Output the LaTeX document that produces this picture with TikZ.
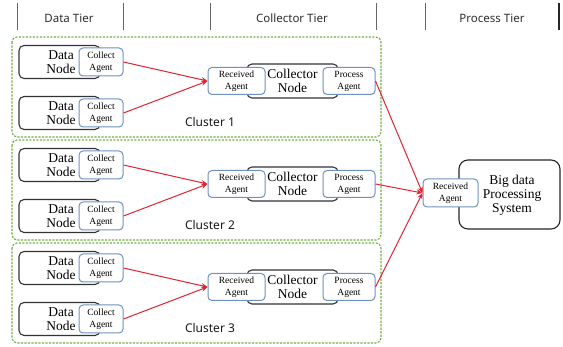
\documentclass[tikz,border=0pt]{standalone}
\usepackage{fontspec}
\setmainfont{Liberation Serif}
\newfontfamily\hdr{Noto Sans}
\usetikzlibrary{arrows.meta}
\definecolor{agentc}{RGB}{110,145,195}
\definecolor{clusterc}{RGB}{115,175,70}
\definecolor{arrowc}{RGB}{225,35,50}
\definecolor{hdrtext}{RGB}{45,45,45}
\begin{document}
\begin{tikzpicture}[x=1pt,y=-1pt,
  datanode/.style={draw=black!80,line width=1.1pt,rounded corners=5pt,fill=white,minimum width=81pt,minimum height=33pt,inner sep=0pt},
  dtext/.style={font=\fontsize{13.5}{14}\selectfont,align=center,inner sep=0pt},
  agent/.style={draw=agentc,line width=1pt,rounded corners=4pt,fill=white,inner sep=0pt,align=center,font=\fontsize{9.5}{12}\selectfont},
  collbox/.style={draw=black!80,line width=1.1pt,rounded corners=5pt,fill=white,minimum width=91pt,minimum height=34pt,inner sep=0pt,align=center,font=\fontsize{13.5}{14}\selectfont},
  cluster/.style={draw=clusterc,line width=1.1pt,dash pattern=on 2.2pt off 1.3pt,rounded corners=5pt},
  clabel/.style={font=\hdr\fontsize{12}{14}\selectfont,text=black!90,inner sep=0pt},
  hline/.style={draw=black!60,line width=0.9pt},
  htext/.style={font=\hdr\fontsize{11.5}{14}\selectfont,text=hdrtext,inner sep=0pt},
  flow/.style={draw=arrowc,line width=1pt,-{Stealth[length=6pt,width=5pt]}}
]
\useasboundingbox (0,0) rectangle (563,347);
\fill[white] (0,0) rectangle (563,347);

% header
\foreach \xx/\nm in {17/h1,123/h2,210/h3,376/h4,425/h5}{
  \coordinate (\nm a) at (\xx,3); \coordinate (\nm b) at (\xx,30);
  \draw[hline] (\nm a) -- (\nm b);
}
\coordinate (h6a) at (559,3); \coordinate (h6b) at (559,30);
\draw[draw=black!85,line width=1.3pt] (h6a) -- (h6b);
\node[htext] (t1) at (69,18) {Data Tier};
\node[htext] (t2) at (292,18) {Collector Tier};
\node[htext] (t3) at (492,18) {Process Tier};

% clusters
\foreach \T/\k in {37/1,140/2,243/3}{
  \draw[cluster] (12,\T) rectangle (381,\T+100);
  % data nodes
  \node[datanode] (dn\k a) at (59.5,\T+25) {};
  \node[dtext] (dt\k a) at (61,\T+25) {Data\\Node};
  \node[agent,minimum width=44pt,minimum height=28pt] (ca\k a) at (101,\T+25) {Collect\\Agent};
  \node[datanode] (dn\k b) at (59.5,\T+76) {};
  \node[dtext] (dt\k b) at (61,\T+76) {Data\\Node};
  \node[agent,minimum width=44pt,minimum height=28pt] (ca\k b) at (101,\T+76) {Collect\\Agent};
  % collector
  \node[collbox] (cn\k) at (292.5,\T+44) {Collector\\Node};
  \node[agent,minimum width=57pt,minimum height=27pt] (ra\k) at (236.5,\T+44) {Received\\Agent};
  \node[agent,minimum width=52pt,minimum height=27pt] (pa\k) at (349,\T+44) {Process\\Agent};
  \node[clabel] (cl\k) at (210,\T+85) {Cluster \k};
  \draw[flow] (ca\k a.east) -- (ra\k.west);
  \draw[flow] (ca\k b.east) -- (ra\k.west);
}

% process tier
\node[draw=black!85,line width=1.1pt,rounded corners=9pt,fill=white,minimum width=101pt,minimum height=69pt,inner sep=0pt] (bd) at (509.5,194.5) {};
\node[dtext] (bdt) at (512,195) {Big data\\Processing\\System};
\node[agent,minimum width=55pt,minimum height=28pt] (pra) at (450.5,193) {Received\\Agent};
\draw[flow] (pa1.east) -- (pra.west);
\draw[flow] (pa2.east) -- (pra.west);
\draw[flow] (pa3.east) -- (pra.west);
\end{tikzpicture}
\end{document}
